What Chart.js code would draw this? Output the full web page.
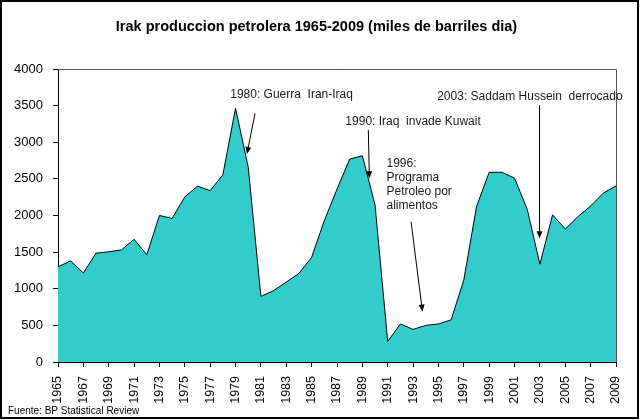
<!DOCTYPE html>
<html>
<head>
<meta charset="utf-8">
<script src="https://cdn.jsdelivr.net/npm/chart.js@4.4.1/dist/chart.umd.min.js"></script>
<style>
    html, body { margin: 0; padding: 0; background: #fff; }
    #wrap { width: 640px; height: 420px; position: relative; }
</style>
</head>
<body>
<div id="wrap"><canvas id="irakChart" width="640" height="420"></canvas></div>
<script>
// Irak produccion petrolera, miles de barriles dia (BP Statistical Review)
const years = [
    1965, 1966, 1967, 1968, 1969, 1970, 1971, 1972, 1973, 1974,
    1975, 1976, 1977, 1978, 1979, 1980, 1981, 1982, 1983, 1984,
    1985, 1986, 1987, 1988, 1989, 1990, 1991, 1992, 1993, 1994,
    1995, 1996, 1997, 1998, 1999, 2000, 2001, 2002, 2003, 2004,
    2005, 2006, 2007, 2008, 2009
];
const production = [
    1300, 1380, 1215, 1485, 1505, 1530, 1675, 1465, 2000, 1960,
    2255, 2400, 2340, 2555, 3465, 2660, 895, 975, 1090, 1210,
    1430, 1930, 2360, 2770, 2815, 2145, 280, 520, 445, 500,
    520, 575, 1120, 2120, 2590, 2590, 2510, 2085, 1335, 2010,
    1815, 1985, 2130, 2305, 2405
];
const yTicks = [0, 500, 1000, 1500, 2000, 2500, 3000, 3500, 4000];

const titleText = "Irak produccion petrolera 1965-2009 (miles de barriles dia)";
const sourceText = "Fuente: BP Statistical Review";

// notes: text anchored at (year, value), arrow from -> to in (year, value)
const notes = [
    { lines: ["1980: Guerra  Iran-Iraq"], at: [1978.58, 3645], from: [1980.54, 3395], to: [1979.9, 2840] },
    { lines: ["1990: Iraq  invade Kuwait"], at: [1987.66, 3280], from: [1989.47, 3167], to: [1989.55, 2508] },
    { lines: ["1996:", "Programa", "Petroleo por", "alimentos"], at: [1990.9, 2713], from: [1992.84, 1915], to: [1993.74, 687] },
    { lines: ["2003: Saddam Hussein  derrocado"], at: [1994.9, 3622], from: [2002.97, 3508], to: [2002.97, 1689] }
];

const FONT = "'Liberation Sans', Arial, sans-serif";

const framePlugin = {
    id: "frame",
    afterDatasetsDraw(chart) {
        const c = chart.ctx;
        const a = chart.chartArea;
        c.save();
        // plot area border
        c.strokeStyle = "#555";
        c.lineWidth = 1;
        c.beginPath();
        c.moveTo(a.left, a.top + 0.5);
        c.lineTo(a.right + 0.5, a.top + 0.5);
        c.lineTo(a.right + 0.5, a.bottom);
        c.stroke();
        c.restore();
    },
    afterDraw(chart) {
        const c = chart.ctx;
        c.save();
        c.strokeStyle = "#000";
        c.lineWidth = 2;
        c.strokeRect(1, 1, 637, 417);
        c.restore();
    }
};

const notesPlugin = {
    id: "notes",
    afterDatasetsDraw(chart) {
        const c = chart.ctx;
        const xs = chart.scales.x;
        const ys = chart.scales.y;
        const px = (yr) => xs.getPixelForValue(yr - years[0]);
        c.save();
        c.fillStyle = "#1a1a1a";
        c.strokeStyle = "#000";
        c.font = "12px " + FONT;
        c.textBaseline = "middle";
        c.textAlign = "left";
        notes.forEach(function (n) {
            const tx = px(n.at[0]);
            const ty = ys.getPixelForValue(n.at[1]);
            n.lines.forEach(function (line, i) {
                c.fillText(line, tx, ty + i * 14.3);
            });
            const x1 = px(n.from[0]), y1 = ys.getPixelForValue(n.from[1]);
            const x2 = px(n.to[0]), y2 = ys.getPixelForValue(n.to[1]);
            const ang = Math.atan2(y2 - y1, x2 - x1);
            const head = 7;
            c.lineWidth = 1;
            c.beginPath();
            c.moveTo(x1, y1);
            c.lineTo(x2 - head * 0.8 * Math.cos(ang), y2 - head * 0.8 * Math.sin(ang));
            c.stroke();
            c.fillStyle = "#000";
            c.beginPath();
            c.moveTo(x2, y2);
            c.lineTo(x2 - head * Math.cos(ang) + 3 * Math.sin(ang), y2 - head * Math.sin(ang) - 3 * Math.cos(ang));
            c.lineTo(x2 - head * Math.cos(ang) - 3 * Math.sin(ang), y2 - head * Math.sin(ang) + 3 * Math.cos(ang));
            c.closePath();
            c.fill();
            c.fillStyle = "#1a1a1a";
        });
        c.restore();
    }
};

document.addEventListener("DOMContentLoaded", function () {
    const ctx = document.getElementById("irakChart").getContext("2d");

    new Chart(ctx, {
        type: "line",
        data: {
            labels: years.map(String),
            datasets: [
                {
                    data: production,
                    fill: "origin",
                    backgroundColor: "#33cccc",
                    borderColor: "#000",
                    borderWidth: 1,
                    pointRadius: 0,
                    tension: 0
                }
            ]
        },
        options: {
            responsive: false,
            animation: false,
            layout: {
                padding: { left: 8, right: 15, top: 0, bottom: 0 }
            },
            plugins: {
                legend: { display: false },
                tooltip: { enabled: false },
                title: {
                    display: true,
                    text: titleText,
                    color: "#000",
                    font: { family: FONT, size: 14.5, weight: "bold" },
                    padding: { top: 18, bottom: 33.6 }
                },
                subtitle: {
                    display: true,
                    position: "bottom",
                    align: "start",
                    text: sourceText,
                    color: "#000",
                    font: { family: FONT, size: 10 },
                    padding: { top: 0, bottom: 3 }
                }
            },
            scales: {
                x: {
                    afterFit: function (scale) { scale.height = 43; },
                    grid: {
                        display: true,
                        drawOnChartArea: false,
                        drawTicks: true,
                        tickLength: 5,
                        tickColor: function (c) { return c.index % 2 === 0 ? "#000" : "rgba(0,0,0,0)"; }
                    },
                    border: { display: true, color: "#000", width: 1 },
                    ticks: {
                        autoSkip: false,
                        maxRotation: 90,
                        minRotation: 90,
                        padding: 9,
                        color: "#000",
                        font: { family: FONT, size: 12.5 },
                        callback: function (val, i) { return i % 2 === 0 ? years[i] : ""; }
                    }
                },
                y: {
                    min: yTicks[0],
                    max: yTicks[yTicks.length - 1],
                    afterFit: function (scale) { scale.width = 50; },
                    afterBuildTicks: function (scale) {
                        scale.ticks = yTicks.map(function (v) { return { value: v }; });
                    },
                    grid: {
                        display: true,
                        drawOnChartArea: false,
                        drawTicks: true,
                        tickLength: 5,
                        tickColor: "#000"
                    },
                    border: { display: true, color: "#000", width: 1 },
                    ticks: {
                        padding: 10,
                        color: "#000",
                        font: { family: FONT, size: 13 },
                        callback: function (v) { return String(v); }
                    }
                }
            }
        },
        plugins: [framePlugin, notesPlugin]
    });
});
</script>
</body>
</html>
